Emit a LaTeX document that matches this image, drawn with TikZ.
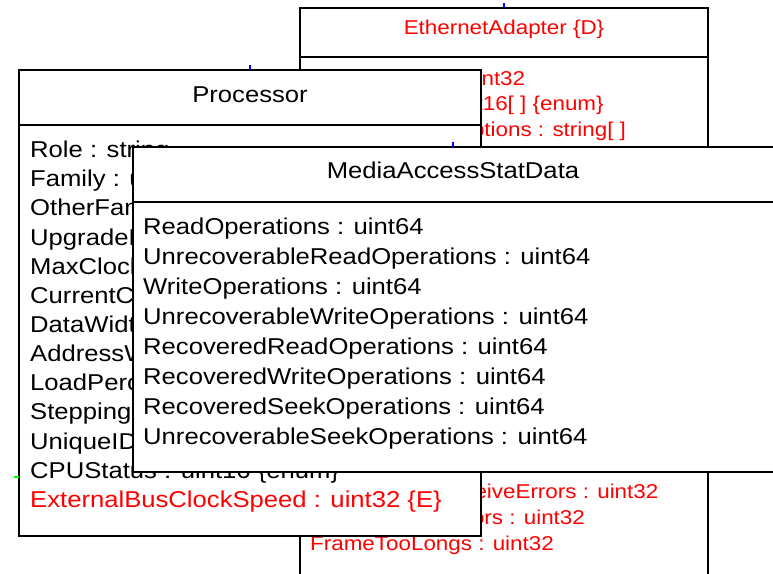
\documentclass[tikz,border=0pt]{standalone}
\usepackage{fontspec}
\setmainfont{Liberation Sans}
\newfontfamily\umlfont[FakeStretch=1.12]{Liberation Sans}
\usetikzlibrary{positioning}

\begin{document}
\begin{tikzpicture}[x=1bp, y=-1bp,
    classbox/.style={draw, fill=white, line width=1.6bp},
    bigtext/.style={font=\umlfont\fontsize{22.9bp}{27bp}\selectfont},
    smalltext/.style={font=\umlfont\fontsize{20bp}{24bp}\selectfont},
    attr/.style={anchor=base west, inner sep=0pt},
    ctitle/.style={anchor=base, inner sep=0pt},
    tick/.style={line width=1.2bp}]

    \useasboundingbox (0, 0) rectangle (773, 574);
    \clip (0, 0) rectangle (773, 574);

    \begin{scope}[smalltext, text=red]
      \draw[classbox] (300, 8) rectangle (708, 600);
      \draw[line width=1.6bp] (300, 57) -- (708, 57);
      \draw[tick, blue] (504, 3) -- (504, 8);

      \node[ctitle] (ethT) at (504, 35) {EthernetAdapter \{D\}};
      \node[attr] (eth1) at (310, 85.5) {MaxDataSize : uint32};
      \node[attr] (eth2) at (310, 111) {Capabilities : uint16[ ] \{enum\}};
      \node[attr] (eth3) at (310, 137) {CapabilityDescriptions : string[ ]};
      \node[attr] (eth17) at (310, 498) {InternalMACReceiveErrors : uint32};
      \node[attr] (eth18) at (310, 524) {CarrierSenseErrors : uint32};
      \node[attr] (eth19) at (310, 550) {FrameTooLongs : uint32};
    \end{scope}

    \begin{scope}[bigtext]
      \draw[classbox] (19, 70) rectangle (481, 536);
      \draw[line width=1.6bp] (19, 125) -- (481, 125);
      \draw[tick, blue] (250, 65) -- (250, 70);
      \draw[tick, green] (14, 477) -- (19, 477);

      \node[ctitle] (procT) at (250, 103) {Processor};
      \node[attr] (proc1) at (30, 158) {Role : string};
      \node[attr] (proc2) at (30, 187) {Family : uint16 \{enum\}};
      \node[attr] (proc3) at (30, 216) {OtherFamilyDescription : string};
      \node[attr] (proc4) at (30, 245) {UpgradeMethod : uint16 \{enum\}};
      \node[attr] (proc5) at (30, 274) {MaxClockSpeed : uint32};
      \node[attr] (proc6) at (30, 303) {CurrentClockSpeed : uint32};
      \node[attr] (proc7) at (30, 332) {DataWidth : uint16};
      \node[attr] (proc8) at (30, 361) {AddressWidth : uint16};
      \node[attr] (proc9) at (30, 390) {LoadPercentage : uint16};
      \node[attr] (proc10) at (30, 419) {Stepping : string};
      \node[attr] (proc11) at (30, 449) {UniqueID : string};
      \node[attr] (proc12) at (30, 478) {CPUStatus : uint16 \{enum\}};
      \node[attr, text=red] (proc13) at (30, 507)
      {ExternalBusClockSpeed : uint32 \{E\}};
    \end{scope}

    \begin{scope}[bigtext]
      \draw[classbox] (133, 147) rectangle (777, 472);
      \draw[line width=1.6bp] (133, 202) -- (777, 202);
      \draw[tick, blue] (453, 142) -- (453, 147);

      \node[ctitle] (mediaT) at (453, 179) {MediaAccessStatData};
      \node[attr] (media1) at (143, 234) {ReadOperations : uint64};
      \node[attr] (media2) at (143, 264) {UnrecoverableReadOperations : uint64};
      \node[attr] (media3) at (143, 294) {WriteOperations : uint64};
      \node[attr] (media4) at (143, 324) {UnrecoverableWriteOperations : uint64};
      \node[attr] (media5) at (143, 354) {RecoveredReadOperations : uint64};
      \node[attr] (media6) at (143, 384) {RecoveredWriteOperations : uint64};
      \node[attr] (media7) at (143, 414) {RecoveredSeekOperations : uint64};
      \node[attr] (media8) at (143, 444) {UnrecoverableSeekOperations : uint64};
    \end{scope}

  \end{tikzpicture}
\end{document}
